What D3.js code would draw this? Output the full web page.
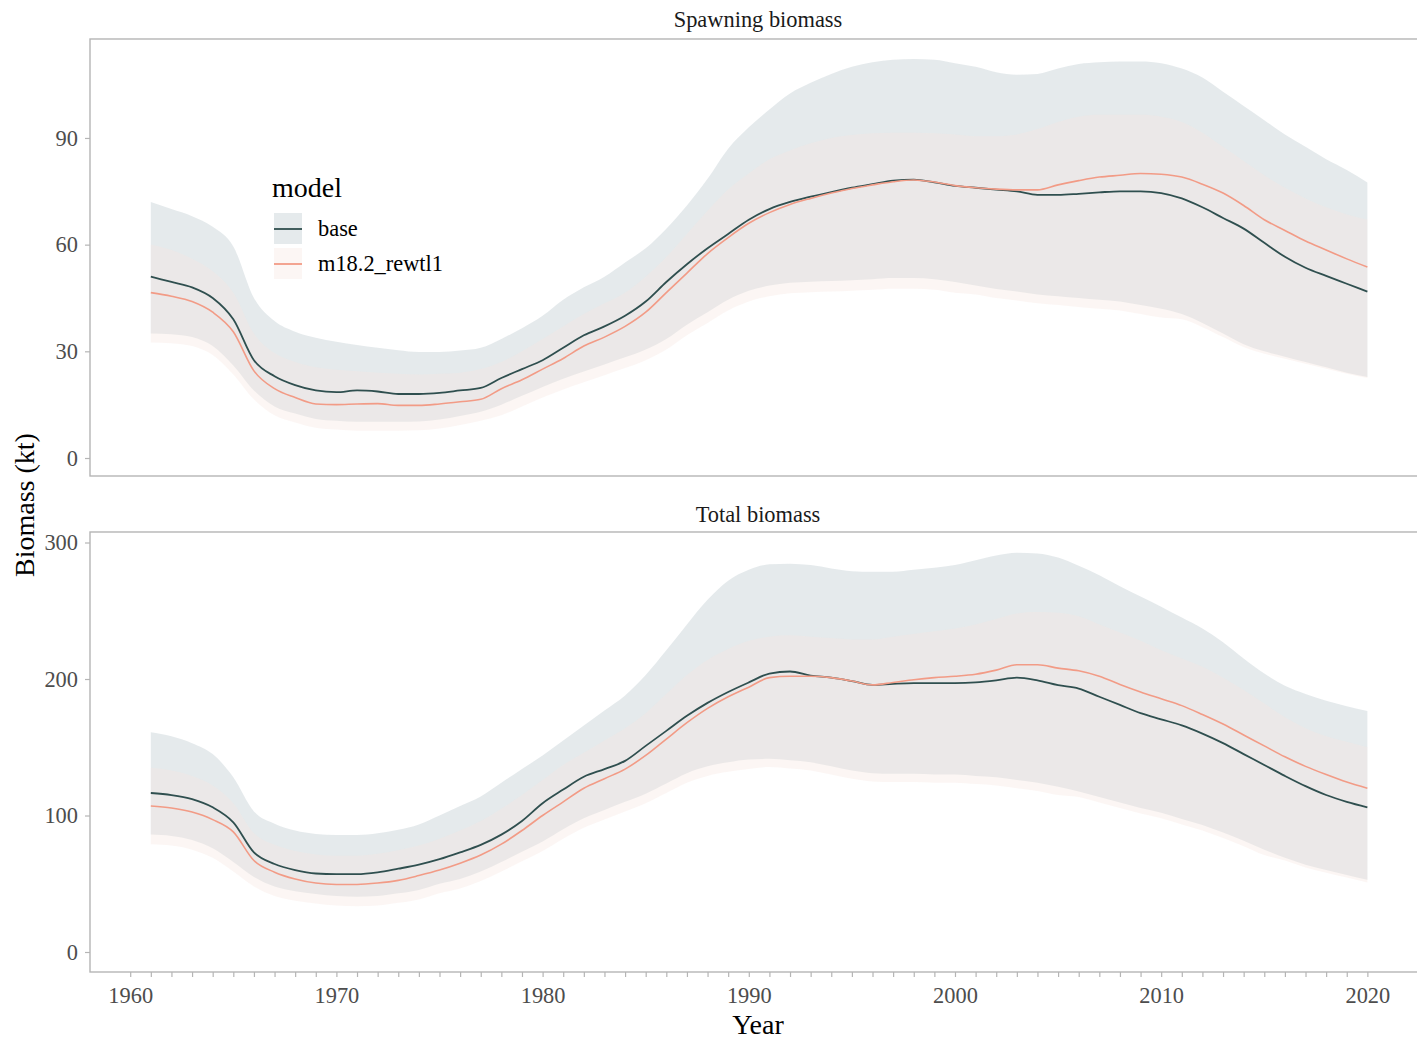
<!DOCTYPE html>
<html>
<head>
<meta charset="utf-8">
<script src="https://cdn.jsdelivr.net/npm/d3@7"></script>
<style>
  html, body { margin: 0; padding: 0; background: #ffffff; }
  svg { display: block; }
  text { font-family: "Liberation Serif", "DejaVu Serif", serif; }
</style>
</head>
<body>
<svg id="chart" width="1417" height="1040"></svg>
<script>
// ---------------- DATA ----------------
const years = [1961,1962,1963,1964,1965,1966,1967,1968,1969,1970,
  1971,1972,1973,1974,1975,1976,1977,1978,1979,1980,
  1981,1982,1983,1984,1985,1986,1987,1988,1989,1990,
  1991,1992,1993,1994,1995,1996,1997,1998,1999,2000,
  2001,2002,2003,2004,2005,2006,2007,2008,2009,2010,
  2011,2012,2013,2014,2015,2016,2017,2018,2019,2020];

const models = ["base", "m18.2_rewtl1"];
const panelTitles = ["Spawning biomass", "Total biomass"];
const xTickLabels = [1960, 1970, 1980, 1990, 2000, 2010, 2020];
const ssbTicks = [0, 30, 60, 90];
const totTicks = [0, 100, 200, 300];

// Spawning biomass (kt)
const ssbBase = [51,49.5,48,45,39,27.5,23,20.5,19,18.5,
  19,18.7,18,18,18.3,19,19.7,22.5,25,27.5,
  31,34.5,37,40,44,49.5,54.5,59,63,67,
  70,72,73.5,74.8,76,77,78,78.3,77.5,76.5,
  76,75.5,75,74,74,74.3,74.7,75,75,74.5,
  73,70.5,67.5,64.5,60.5,56.6,53.5,51.2,49,46.8];
const ssbBaseLo = [35,34.8,34,31.5,26,19,14.5,12.5,11,10.5,
  10.2,10.2,10.2,10.3,10.8,11.8,13,15,17.5,20,
  22.3,24.3,26.3,28.3,30.5,33.5,37.5,41,44.5,47,
  48.5,49.3,49.6,49.8,50,50.3,50.6,50.6,50.3,49.5,
  48.5,47.5,46.8,46,45.5,45,44.5,44,43,42,
  40.5,38,35,32,30,28.5,27,25.5,24,22.8];
const ssbBaseHi = [72,70,68,65,59.5,45,38.5,35.5,33.8,32.7,
  31.8,31,30.3,29.8,29.8,30.2,31,33.5,36.5,40,
  44.5,48,51,55,59,64.5,71,78.5,87,93,
  98,102.5,105.5,108,110,111.3,112,112.2,112,111,
  110,108.5,107.8,108,109.5,110.8,111.3,111.5,111.5,111,
  109.5,107,103,99,95,91,87.5,84,81,77.5];
const ssbM18 = [46.5,45.5,44,41,35.5,24.5,19.5,17,15.2,15,
  15.2,15.3,14.8,14.8,15.2,15.8,16.5,19.5,22,25,
  28,31.5,34,37,41,46.5,52,57.5,62,66,
  69,71.3,73,74.5,75.8,76.8,77.7,78.2,77.6,76.6,
  76,75.6,75.4,75.4,76.8,78,79,79.5,80,79.8,
  79,77,74.5,71,67,64,61,58.5,56,53.7];
const ssbM18Lo = [32.5,32.3,31.5,29,23.5,16.5,12,10,8.5,8,
  7.7,7.7,7.7,7.8,8.3,9.3,10.5,12,14.5,17,
  19.3,21.3,23.3,25.3,27.5,30.5,34.5,38,41.5,44,
  45.5,46.3,46.6,46.8,47,47.3,47.6,47.6,47.3,46.5,
  46,45,44.3,43.5,43,42.5,42,41.5,40.5,39.5,
  39,36.8,34,31.2,29.3,27.9,26.5,25.1,23.7,22.5];
const ssbM18Hi = [60,58.5,56,52.5,46.5,35,29.5,27,25.5,24.8,
  24.4,24,23.7,23.5,23.7,24,25,27,30,33.5,
  37,40.5,43.5,46.5,51,56.5,63,69.5,75.5,80,
  84,86.5,88.5,90,90.8,91.3,91.5,91.5,91.3,91,
  90.5,90.5,91,92.5,94.5,96,96.5,96.5,96.5,96,
  94.5,91.5,87.5,83.5,79.5,76,73,70.5,68.5,67];

// Total biomass (kt)
const totBase = [116.5,115,112,106,95,73,64.5,60,57.5,57,
  57,58.3,61,64,68,73,78.5,86,96,109,
  119,128.4,134,140,151,162,173,182.5,190.5,197.5,
  204,205.5,202.5,201,198.5,195.7,196.5,197,197,197,
  197.5,199,201,199,195.5,193,187,181,175,170.5,
  166,160,153,145,137,129,121.5,115,110,106];
const totBaseLo = [86,85,82,76,66,55,48,44.5,42.5,41,
  40.5,41,43,45.5,50,53.5,59,66,73.5,81,
  90,98,104,110,116,123.5,131,136,139,141,
  141.5,140.5,139,136,133,131,130.5,130.5,130,130,
  129,128,126,124,121,117.5,113.5,109.5,105.5,102,
  97.5,93,87.5,81.5,75,69,64,60,56.5,53];
const totBaseHi = [161,158,153,145,128,103,94,89,86.5,85.7,
  85.7,87,89.5,93.5,100,107,114,124,134,144,
  155,166,177,188,203,221,240,258,272,280,
  284,284.5,283.5,281,279,278.5,278.5,280,281.5,283.5,
  287,290.5,292.5,292,289,283,276,268,260.5,253,
  245,237,227,215,204,195,189,184,180,176.5];
const totM18 = [107,105.5,102.5,97,88,67,58.5,53.5,50.5,49.5,
  49.5,50.5,52.5,56,60,65,71,79,89,100,
  110,120,127,134,144,156,168,178.5,187,194,
  201,202,202,201,198.5,195.7,197.5,199.5,201,202,
  203.5,206.5,210.5,210.5,208,206,202,196,190.5,185.5,
  180.5,174,167,159,151,143,136,130,124.5,120];
const totM18Lo = [79,78,75,69,59,48,41,37.5,35.5,34,
  33.5,34,36,38.5,43,46.5,52,59,66.5,74,
  83,91,97,103,109,116.5,124,129,132,134,
  135.5,134.5,133,130,127,125,124.5,124.5,124,124,
  123,122,120,118,115,113.5,109.5,105.5,101.5,98,
  93.5,89,83.5,77.5,71,67,62,58,54.5,51];
const totM18Hi = [135,133,129,122,109,87,78.5,74,71.5,70.5,
  70.5,72,74.5,78,83,89,96,105,115,126,
  137,146,155,164,175,189,203,214,222,228,
  231,232,231,230,229,229,231,233,235,237,
  240,244,248,249,248.5,246,240,234,228,221,
  215,209,201,192,182,172,164,158,154,150];

// ---------------- STYLE ----------------
const colBaseLine = "#2f4f4f";
const colM18Line = "#f29b86";
const colBaseFill = "rgba(40,80,100,0.12)";
const colM18Fill = "rgba(246,230,224,0.36)";
const tickCol = "#4d4d4d";
const borderCol = "#b5b5b5";

const svg = d3.select("#chart");
svg.append("rect").attr("width", 1417).attr("height", 1040).attr("fill", "#fff");

const x = d3.scaleLinear().domain([1958.05, 2022.95]).range([90, 1428.2]);

const panels = [
  {title: panelTitles[0], top: 39, bottom: 476, domain: [-5.06, 117.83], ticks: ssbTicks,
   base: ssbBase, baseLo: ssbBaseLo, baseHi: ssbBaseHi, m18: ssbM18, m18Lo: ssbM18Lo, m18Hi: ssbM18Hi,
   titleY: 27, xAxis: false},
  {title: panelTitles[1], top: 532, bottom: 972, domain: [-14.65, 307.7], ticks: totTicks,
   base: totBase, baseLo: totBaseLo, baseHi: totBaseHi, m18: totM18, m18Lo: totM18Lo, m18Hi: totM18Hi,
   titleY: 522, xAxis: true}
];

panels.forEach(p => {
  const y = d3.scaleLinear().domain(p.domain).range([p.bottom, p.top]);
  const g = svg.append("g");

  const area = (lo, hi) => d3.area()
    .x((d, i) => x(years[i])).y0((d, i) => y(lo[i])).y1((d, i) => y(hi[i]))
    .curve(d3.curveMonotoneX)(years);
  const line = (v) => d3.line()
    .x((d, i) => x(years[i])).y((d, i) => y(v[i]))
    .curve(d3.curveMonotoneX)(years);

  g.append("path").attr("d", area(p.baseLo, p.baseHi)).attr("fill", colBaseFill);
  g.append("path").attr("d", area(p.m18Lo, p.m18Hi)).attr("fill", colM18Fill);
  g.append("path").attr("d", line(p.base)).attr("fill", "none")
    .attr("stroke", colBaseLine).attr("stroke-width", 1.8);
  g.append("path").attr("d", line(p.m18)).attr("fill", "none")
    .attr("stroke", colM18Line).attr("stroke-width", 1.6);

  // panel border
  svg.append("rect").attr("x", 90).attr("y", p.top)
    .attr("width", 1428.2 - 90).attr("height", p.bottom - p.top)
    .attr("fill", "none").attr("stroke", borderCol).attr("stroke-width", 1.4);

  // strip title
  svg.append("text").attr("x", 758).attr("y", p.titleY)
    .attr("text-anchor", "middle").attr("font-size", 22.4).attr("fill", "#1a1a1a")
    .text(p.title);

  // y axis
  const ya = svg.append("g").attr("transform", "translate(90,0)")
    .call(d3.axisLeft(y).tickValues(p.ticks).tickSize(5).tickPadding(7));
  ya.select(".domain").remove();
  ya.selectAll(".tick line").attr("stroke", borderCol).attr("stroke-width", 1.2);
  ya.selectAll(".tick text").attr("fill", tickCol).attr("font-size", 22.4)
    .attr("font-family", "Liberation Serif, serif");

  if (p.xAxis) {
    const allTicks = d3.range(xTickLabels[0], xTickLabels[xTickLabels.length - 1] + 1);
    const xa = svg.append("g").attr("transform", `translate(0,${p.bottom})`)
      .call(d3.axisBottom(x).tickValues(allTicks).tickSize(5).tickPadding(10)
        .tickFormat(d => xTickLabels.includes(d) ? String(d) : ""));
    xa.select(".domain").remove();
    xa.selectAll(".tick line").attr("stroke", borderCol).attr("stroke-width", 1.2);
    xa.selectAll(".tick text").attr("fill", tickCol).attr("font-size", 22.4)
      .attr("font-family", "Liberation Serif, serif");
  }
});

// axis titles
svg.append("text").attr("transform", "translate(34,505) rotate(-90)")
  .attr("text-anchor", "middle").attr("font-size", 28).attr("fill", "#000")
  .text("Biomass (kt)");
svg.append("text").attr("x", 758).attr("y", 1034)
  .attr("text-anchor", "middle").attr("font-size", 28).attr("fill", "#000")
  .text("Year");

// legend
const lg = svg.append("g");
lg.append("text").attr("x", 272).attr("y", 197).attr("font-size", 28).attr("fill", "#000").text("model");
const keyFills = [colBaseFill, colM18Fill];
const keyLines = [colBaseLine, colM18Line];
models.forEach((m, i) => {
  const ky = 213 + i * 35;
  lg.append("rect").attr("x", 274).attr("y", ky).attr("width", 28).attr("height", 31)
    .attr("fill", keyFills[i]);
  lg.append("line").attr("x1", 274).attr("x2", 302).attr("y1", ky + 16).attr("y2", ky + 16)
    .attr("stroke", keyLines[i]).attr("stroke-width", 1.8);
  lg.append("text").attr("x", 318).attr("y", ky + 23).attr("font-size", 22.4)
    .attr("fill", "#000").text(m);
});
</script>
</body>
</html>
